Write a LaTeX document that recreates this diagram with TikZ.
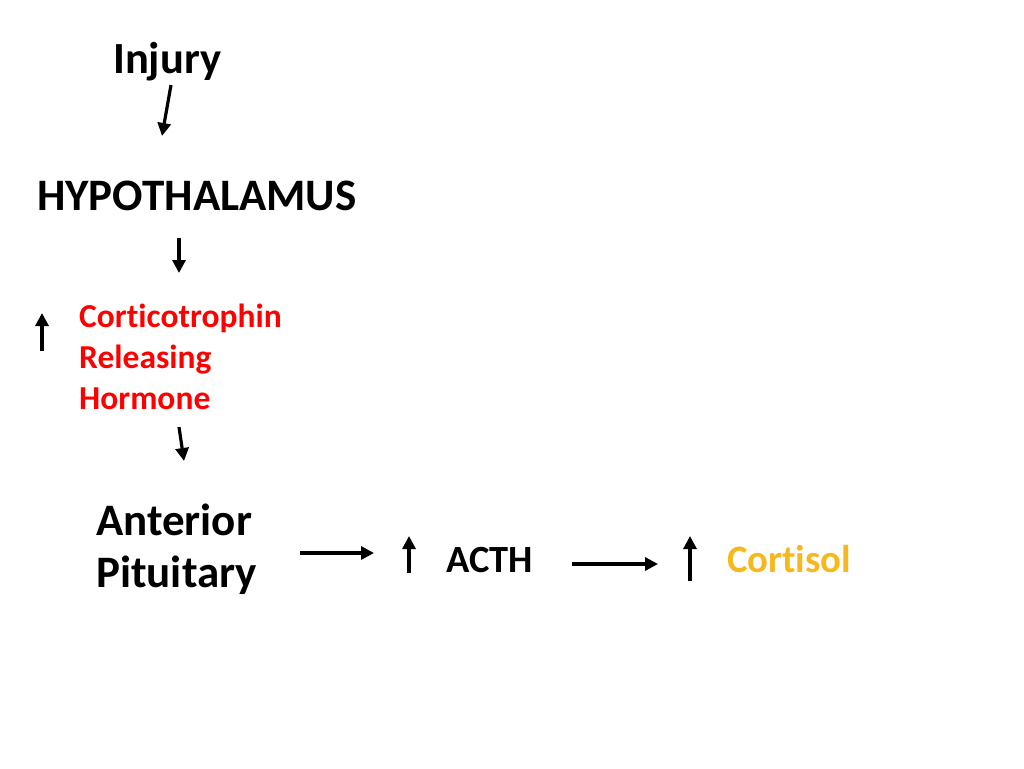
\documentclass[tikz,border=0pt]{standalone}
\usepackage{fontspec}
\setmainfont{Carlito}[Ligatures=NoCommon]
\usetikzlibrary{arrows.meta}
\definecolor{crhred}{RGB}{255,0,0}
\definecolor{cortgold}{RGB}{246,184,30}
\begin{document}
\begin{tikzpicture}[x=1pt,y=-1pt,
  lbl/.style={font=\bfseries\fontsize{#1}{#1}\selectfont, inner sep=0pt, anchor=base west},
  arr/.style={line width=3.2pt, -{Triangle[length=13pt,width=13pt]}}]
\useasboundingbox (0,0) rectangle (1024,768);
\node[lbl=44.5] (inj) at (113,73) {Injury};
\node[lbl=45] (hyp) at (37,210) {HYPOTHALAMUS};
\node[lbl=33.5, text=crhred] (crh1) at (79,327) {Corticotrophin};
\node[lbl=33.5, text=crhred] (crh2) at (79,368) {Releasing};
\node[lbl=33.5, text=crhred] (crh3) at (79,409) {Hormone};
\node[lbl=45] (ap1) at (96,535) {Anterior};
\node[lbl=45] (ap2) at (96,587) {Pituitary};
\node[lbl=38.5] (acth) at (446,572) {ACTH};
\node[lbl=38.8, text=cortgold] (cort) at (727,572) {Cortisol};
\coordinate (a1s) at (171,85); \coordinate (a1e) at (162,136);
\coordinate (a2s) at (179,238); \coordinate (a2e) at (179,273);
\coordinate (a3s) at (42,351); \coordinate (a3e) at (42,313);
\coordinate (a4s) at (179,427); \coordinate (a4e) at (184,461);
\coordinate (a5s) at (300,553); \coordinate (a5e) at (374,553);
\coordinate (a6s) at (409,573); \coordinate (a6e) at (409,536);
\coordinate (a7s) at (572,564); \coordinate (a7e) at (658,564);
\coordinate (a8s) at (690,581); \coordinate (a8e) at (690,536);
\draw[arr] (a1s) -- (a1e);
\draw[arr] (a2s) -- (a2e);
\draw[arr] (a3s) -- (a3e);
\draw[arr] (a4s) -- (a4e);
\draw[arr] (a5s) -- (a5e);
\draw[arr] (a6s) -- (a6e);
\draw[arr] (a7s) -- (a7e);
\draw[arr] (a8s) -- (a8e);
\end{tikzpicture}
\end{document}
